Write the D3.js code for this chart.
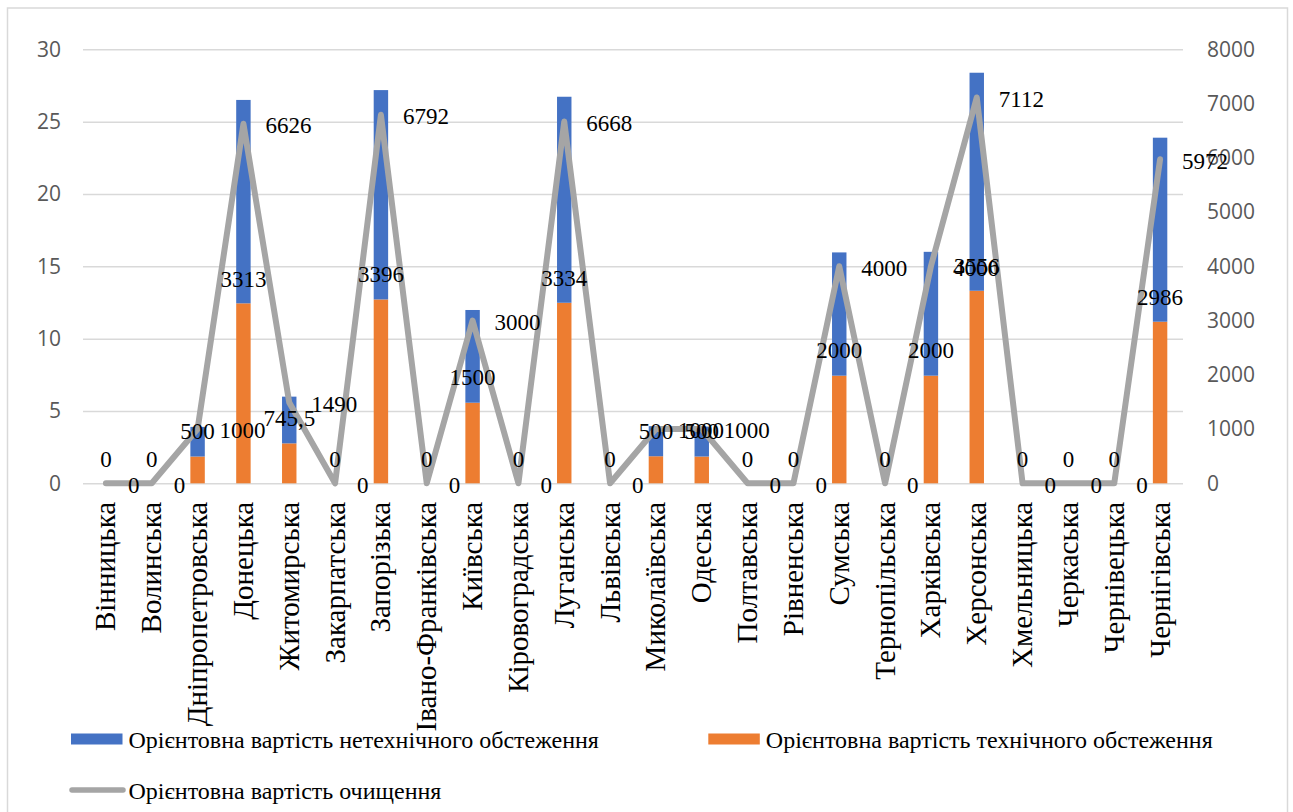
<!DOCTYPE html>
<html>
<head>
<meta charset="utf-8">
<script src="https://cdn.jsdelivr.net/npm/d3@7"></script>
<style>
  body { margin: 0; background: #fff; }
  svg { display: block; }
</style>
</head>
<body>
<script>
// Regions (oblasts)
const regions = [
  "Вінницька", "Волинська", "Дніпропетровська", "Донецька", "Житомирська",
  "Закарпатська", "Запорізька", "Івано-Франківська", "Київська", "Кіровоградська",
  "Луганська", "Львівська", "Миколаївська", "Одеська", "Полтавська",
  "Рівненська", "Сумська", "Тернопільська", "Харківська", "Херсонська",
  "Хмельницька", "Черкаська", "Чернівецька", "Чернігівська"
];

// Stacked bars, primary axis (0-30)
const techSurvey = [0, 0, 1.85, 12.44, 2.76, 0, 12.71, 0, 5.57, 0, 12.48, 0,
  1.87, 1.85, 0, 0, 7.44, 0, 7.44, 13.31, 0, 0, 0, 11.17];
const nonTechSurvey = [0, 0, 2.05, 14.06, 3.23, 0, 14.47, 0, 6.41, 0, 14.24, 0,
  2.08, 2.07, 0, 0, 8.52, 0, 8.56, 15.07, 0, 0, 0, 12.72];

// Labels of the technical survey cost (secondary axis units)
const techCost = [0, 0, 500, 3313, 745.5, 0, 3396, 0, 1500, 0, 3334, 0,
  500, 500, 0, 0, 2000, 0, 2000, 3556, 0, 0, 0, 2986];

// Clearance cost line, secondary axis (0-8000)
const clearanceCost = [0, 0, 1000, 6626, 1490, 0, 6792, 0, 3000, 0, 6668, 0,
  1000, 1000, 0, 0, 4000, 0, 4000, 7112, 0, 0, 0, 5972];

const leftTicks = [0, 5, 10, 15, 20, 25, 30];
const rightTicks = [0, 1000, 2000, 3000, 4000, 5000, 6000, 7000, 8000];

const legendItems = [
  { name: "Орієнтовна вартість нетехнічного обстеження", color: "#4472c4", type: "rect" },
  { name: "Орієнтовна вартість технічного обстеження", color: "#ed7d31", type: "rect" },
  { name: "Орієнтовна вартість очищення", color: "#a5a5a5", type: "line" }
];

const width = 1293;
const height = 812;
const plot = { left: 83, right: 1183, top: 49.3, bottom: 483.3 };
const serif = "'Liberation Serif', 'Times New Roman', serif";

const svg = d3.select("body").append("svg")
  .attr("width", width)
  .attr("height", height);

// Chart frame
svg.append("rect")
  .attr("x", 7.5).attr("y", 8)
  .attr("width", 1280).attr("height", 820)
  .attr("fill", "none")
  .attr("stroke", "#d9d9d9")
  .attr("stroke-width", 1.5);

// Scales
const x = d3.scaleBand()
  .domain(regions)
  .range([plot.left, plot.right]);

const yLeft = d3.scaleLinear().domain([0, 30]).range([plot.bottom, plot.top]);
const yRight = d3.scaleLinear().domain([0, 8000]).range([plot.bottom, plot.top]);

const cx = (d) => x(d) + x.bandwidth() / 2;

// Gridlines
svg.append("g")
  .attr("transform", `translate(${plot.left},0)`)
  .call(d3.axisLeft(yLeft).tickValues(leftTicks).tickSize(-(plot.right - plot.left)).tickFormat(""))
  .call((g) => g.select(".domain").remove())
  .call((g) => g.selectAll("line").attr("stroke", "#d9d9d9").attr("stroke-width", 1.5));

// Left axis
svg.append("g")
  .attr("transform", `translate(${plot.left},0)`)
  .call(d3.axisLeft(yLeft).tickValues(leftTicks).tickSize(0).tickPadding(22))
  .call((g) => g.select(".domain").remove())
  .call((g) => g.selectAll("text")
    .attr("font-family", "'Open Sans', sans-serif")
    .attr("font-size", 21)
    .attr("fill", "#595959"));

// Right axis
svg.append("g")
  .attr("transform", `translate(${plot.right},0)`)
  .call(d3.axisRight(yRight).tickValues(rightTicks).tickSize(0).tickPadding(24)
    .tickFormat(d3.format("d")))
  .call((g) => g.select(".domain").remove())
  .call((g) => g.selectAll("text")
    .attr("font-family", "'Open Sans', sans-serif")
    .attr("font-size", 21)
    .attr("fill", "#595959"));

// Category axis
svg.append("g")
  .attr("transform", `translate(0,${plot.bottom})`)
  .call(d3.axisBottom(x).tickSize(0))
  .call((g) => g.select(".domain").remove())
  .call((g) => g.selectAll("text")
    .attr("transform", "rotate(-90)")
    .attr("x", -18.5)
    .attr("y", 0)
    .attr("dy", "0.33em")
    .attr("text-anchor", "end")
    .attr("font-family", serif)
    .attr("font-size", 29)
    .attr("fill", "#000"));

// Stacked bars
const barData = regions.map((r, i) => ({ region: r, tech: techSurvey[i], nonTech: nonTechSurvey[i] }));
const stacked = d3.stack().keys(["tech", "nonTech"])(barData);
const barColors = { tech: "#ed7d31", nonTech: "#4472c4" };
const barWidth = x.bandwidth() * 0.315;

svg.append("g")
  .selectAll("g")
  .data(stacked)
  .join("g")
  .attr("fill", (s) => barColors[s.key])
  .selectAll("rect")
  .data((s) => s)
  .join("rect")
  .attr("x", (d) => cx(d.data.region) - barWidth / 2)
  .attr("y", (d) => yLeft(d[1]))
  .attr("width", barWidth)
  .attr("height", (d) => yLeft(d[0]) - yLeft(d[1]));

// Clearance line
const line = d3.line()
  .x((d, i) => cx(regions[i]))
  .y((d) => yRight(d));

svg.append("path")
  .datum(clearanceCost)
  .attr("d", line)
  .attr("fill", "none")
  .attr("stroke", "#a5a5a5")
  .attr("stroke-width", 6)
  .attr("stroke-linejoin", "round")
  .attr("stroke-linecap", "round");

const fmt = (v) => String(v).replace(".", ",");

// Technical cost labels (above)
svg.append("g")
  .selectAll("text")
  .data(techCost)
  .join("text")
  .attr("x", (d, i) => cx(regions[i]))
  .attr("y", (d) => yRight(d) - 24.5)
  .attr("dy", "0.34em")
  .attr("text-anchor", "middle")
  .attr("font-family", serif)
  .attr("font-size", 23)
  .text(fmt);

// Clearance cost labels (right)
svg.append("g")
  .selectAll("text")
  .data(clearanceCost)
  .join("text")
  .attr("x", (d, i) => cx(regions[i]) + 22)
  .attr("y", (d) => yRight(d) + 1.5)
  .attr("dy", "0.34em")
  .attr("text-anchor", "start")
  .attr("font-family", serif)
  .attr("font-size", 23)
  .text(fmt);

// Legend
const legendPos = [
  { x: 71, y: 739 },
  { x: 708.3, y: 739 },
  { x: 71, y: 790 }
];

const legend = svg.append("g");
legendItems.forEach((item, i) => {
  const p = legendPos[i];
  if (item.type === "rect") {
    legend.append("rect")
      .attr("x", p.x).attr("y", p.y - 5.5)
      .attr("width", 51.5).attr("height", 11)
      .attr("fill", item.color);
  } else {
    legend.append("line")
      .attr("x1", p.x + 1).attr("x2", p.x + 52)
      .attr("y1", p.y).attr("y2", p.y)
      .attr("stroke", item.color)
      .attr("stroke-width", 5.5)
      .attr("stroke-linecap", "round");
  }
  legend.append("text")
    .attr("x", p.x + 57.5)
    .attr("y", p.y + 9)
    .attr("font-family", serif)
    .attr("font-size", 24)
    .attr("fill", "#000")
    .text(item.name);
});
</script>
</body>
</html>
